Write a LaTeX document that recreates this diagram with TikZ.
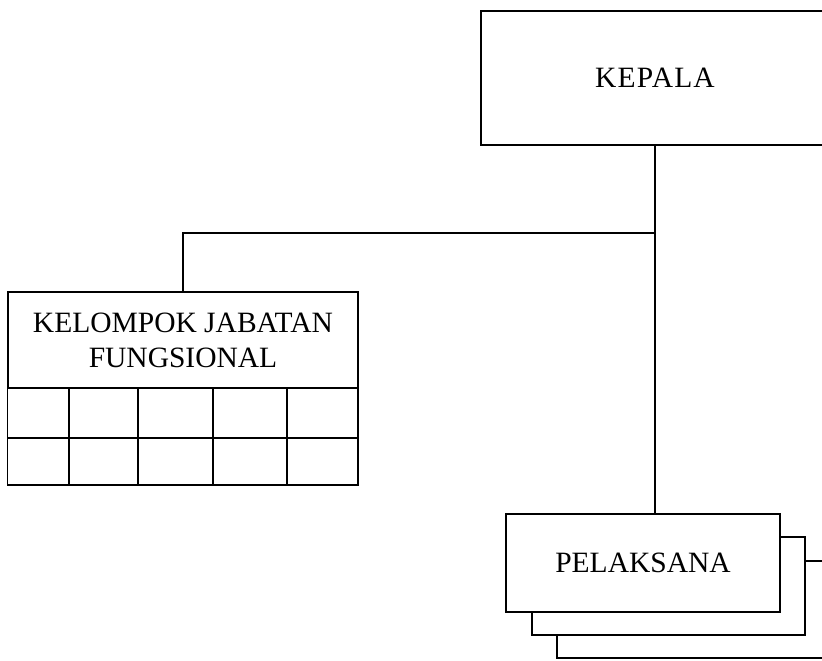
\documentclass[tikz,border=0pt]{standalone}
\usepackage{fontspec}
\setmainfont{Liberation Serif}
\begin{document}
\begin{tikzpicture}[x=1pt,y=-1pt,
  box/.style={draw, line width=1.3pt, fill=white, inner sep=0pt, align=center, font=\fontsize{29.5}{35}\selectfont},
  conn/.style={line width=1.3pt}]
\useasboundingbox (0,0) rectangle (822,661);
\clip (0,0) rectangle (822,661);
% KEPALA
\node[box, minimum width=348pt, minimum height=134pt] (kepala) at (655,78) {\addfontfeature{LetterSpace=4}KEPALA};
% Kelompok Jabatan Fungsional
\node[box, minimum width=350pt, minimum height=96pt] (kjf) at (183,340) {KELOMPOK JABATAN\\FUNGSIONAL};
\draw[conn] (kjf.south west) rectangle (358,485);
\draw[conn] (8,438) -- (358,438);
\foreach \cx in {69,138,213,287} \draw[conn] (\cx,388) -- (\cx,485);
% PELAKSANA stack
\node[box, minimum width=274pt, minimum height=97pt] (pel3) at (694,609.5) {};
\node[box, minimum width=273pt, minimum height=98pt] (pel2) at (668.5,586) {};
\node[box, minimum width=274pt, minimum height=98pt] (pel) at (643,563) {PELAKSANA};
% connectors
\coordinate (j) at (655,233);
\draw[conn] (kepala.south) -- (kepala.south |- pel.north);
\draw[conn] (kjf.north) |- (j);
\end{tikzpicture}
\end{document}
